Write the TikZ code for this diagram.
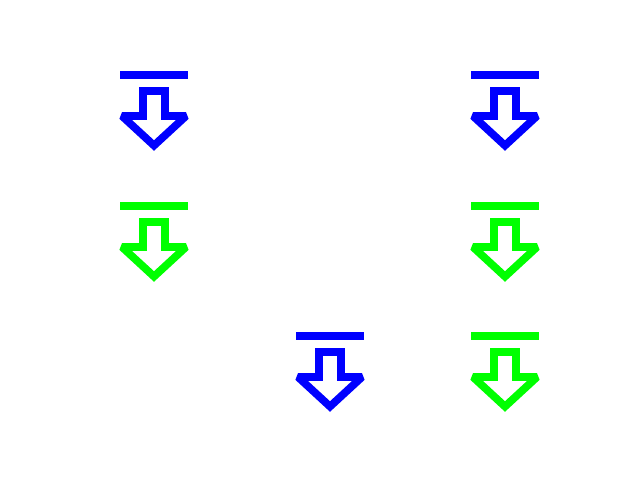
\documentclass[tikz,border=0pt]{standalone}
\usepackage{xcolor}
\definecolor{markblue}{RGB}{0,0,255}
\definecolor{markgreen}{RGB}{0,255,0}
\tikzset{
  barline/.style  ={line width=5.5pt, line cap=butt},
  arrowline/.style={line width=5.5pt, line join=miter, miter limit=2},
  pics/dropmark/.style={code={
    \draw[barline,#1] (-34,0) -- (34,0);
    \draw[arrowline,#1] (-11,16) -- (11,16) -- (11,41) -- (32,41)
       -- (0,70.5) -- (-32,41) -- (-11,41) -- cycle;
  }},
}
\begin{document}
\begin{tikzpicture}[x=0.025cm,y=-0.025cm]
\useasboundingbox (0,0) rectangle (640,480);
\foreach \px/\py in {154/75,505/75,330/336}
  \pic at (\px,\py) {dropmark=markblue};
\foreach \px/\py in {154/206,505/206,505/336}
  \pic at (\px,\py) {dropmark=markgreen};
\end{tikzpicture}
\end{document}
